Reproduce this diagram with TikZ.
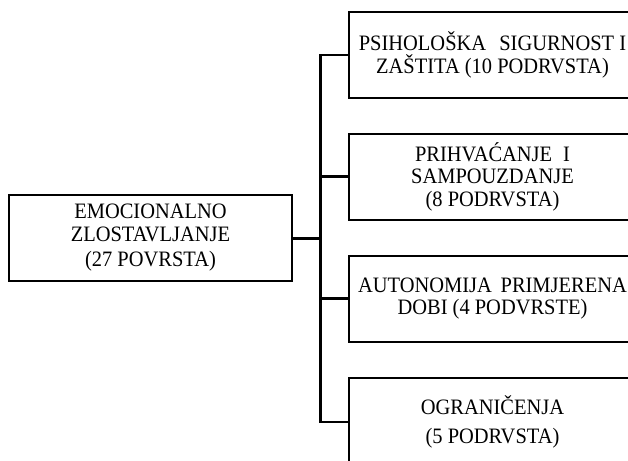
\documentclass[tikz,border=0pt]{standalone}
\usepackage{fontspec}
\setmainfont[FakeStretch=0.93]{Liberation Serif}
\begin{document}
\begin{tikzpicture}[x=1pt,y=-1pt,
  box/.style={draw, line width=2pt, rectangle, align=center, inner sep=0pt,
    font=\fontsize{22}{22.5}\selectfont},
  rbox/.style={box, minimum width=287pt, minimum height=86pt},
  link/.style={line width=2.2pt},
  mainlink/.style={line width=3pt}]
\useasboundingbox (0,0) rectangle (628,460);
\clip (0,0) rectangle (628,460);
\node[box, minimum width=283pt, minimum height=86pt] (root) at (150.5,238)
  {EMOCIONALNO\\ZLOSTAVLJANJE\\[3pt](27 POVRSTA)};
\node[rbox] (b1) at (492.5,55) {PSIHOLOŠKA\hspace{0.6em}SIGURNOST I\\ZAŠTITA (10 PODRVSTA)};
\node[rbox] (b2) at (492.5,176.5) {PRIHVAĆANJE\hspace{0.5em}I\\SAMPOUZDANJE\\(8 PODRVSTA)};
\node[rbox] (b3) at (492.5,298.5) {AUTONOMIJA\hspace{0.4em}PRIMJERENA\\DOBI (4 PODVRSTE)};
\node[rbox, minimum height=88pt] (b4) at (492.5,422) {OGRANIČENJA\\[6pt](5 PODRVSTA)};
\coordinate (spine) at (320.5,237);
\draw[mainlink] (root.east) -- (root.east -| spine);
\draw[link] (b1.west) -- (b1.west -| spine) -- (b4.west -| spine) -- (b4.west);
\draw[link] (b2.west) -- (b2.west -| spine);
\draw[link] (b3.west) -- (b3.west -| spine);
\end{tikzpicture}
\end{document}
